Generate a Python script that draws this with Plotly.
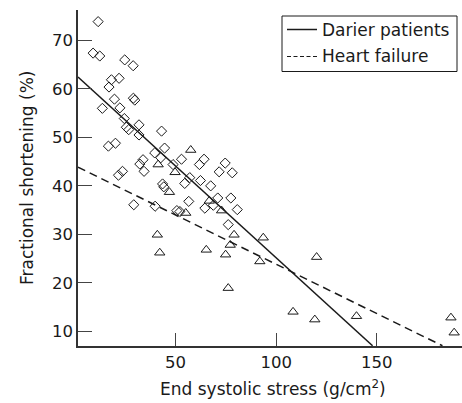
import plotly.graph_objects as go

# Darier patients (open diamonds)
darier_x = [11.6, 9.1, 12.4, 24.8, 29.0, 18.2, 22.0, 17.0, 29.1, 29.8, 19.7, 13.7, 22.4,
            24.6, 25.6, 26.8, 31.9, 31.9, 43.1, 16.7, 20.2, 39.7, 44.6, 42.7, 33.9, 32.3,
            34.4, 53.0, 48.8, 21.7, 23.7, 61.9, 64.2, 74.7, 71.7, 78.2, 57.1, 54.6, 62.4,
            67.5, 43.6, 44.2, 71.0, 77.5, 56.6, 64.6, 68.8, 80.7, 29.3, 39.9, 50.7, 52.2, 76.2]
darier_y = [73.9, 67.4, 66.8, 66.0, 64.8, 61.9, 62.2, 60.4, 58.1, 57.7, 57.9, 56.0, 56.1,
            53.9, 52.1, 51.6, 52.6, 50.5, 51.3, 48.2, 48.8, 46.8, 47.8, 45.8, 45.4, 44.5,
            43.0, 45.5, 44.4, 42.2, 43.0, 44.4, 45.5, 44.7, 42.9, 42.7, 41.7, 40.5, 41.1,
            40.0, 40.4, 39.8, 37.5, 37.5, 36.8, 35.4, 36.0, 35.1, 36.1, 35.8, 34.9, 34.7, 32.0]

# Heart failure (open triangles)
hf_x = [57.6, 41.4, 49.8, 47.0, 55.1, 66.8, 72.9, 41.0, 42.2, 65.3, 79.1, 77.2, 74.9,
        76.2, 93.6, 91.9, 120.1, 108.4, 119.2, 139.9, 186.8, 188.4]
hf_y = [47.4, 44.4, 42.8, 38.7, 34.4, 36.9, 34.9, 29.9, 26.2, 26.8, 29.9, 27.8, 25.8,
        18.9, 29.3, 24.4, 25.3, 14.0, 12.4, 13.1, 12.8, 9.7]

# Regression lines (end points)
darier_fit_x = [1.6, 147.9]
darier_fit_y = [62.45, 7.0]
hf_fit_x = [1.6, 182.6]
hf_fit_y = [43.86, 7.0]

x_ticks = [50, 100, 150]
y_ticks = [10, 20, 30, 40, 50, 60, 70]

FONT = "DejaVu Sans"
INK = "#1a1a1a"

# pixel helpers for paper coordinates (plot area: x 78..462, y 10..346)
def px(x):
    return (x - 78) / 384

def py(y):
    return (346 - y) / 336

fig = go.Figure()
fig.add_trace(go.Scatter(x=darier_fit_x, y=darier_fit_y, mode="lines",
                         line=dict(color=INK, width=1.5), showlegend=False))
fig.add_trace(go.Scatter(x=hf_fit_x, y=hf_fit_y, mode="lines",
                         line=dict(color=INK, width=1.5, dash="8px,5px"), showlegend=False))
fig.add_trace(go.Scatter(x=darier_x, y=darier_y, mode="markers",
                         marker=dict(symbol="diamond-open", size=7.8, color=INK,
                                     line=dict(width=1, color=INK)), showlegend=False))
fig.add_trace(go.Scatter(x=hf_x, y=hf_y, mode="markers",
                         marker=dict(symbol="triangle-up-open", size=9, color=INK,
                                     line=dict(width=1, color=INK)), showlegend=False))

fig.update_layout(
    width=462, height=403,
    margin=dict(l=78, r=0, t=10, b=57),
    paper_bgcolor="white", plot_bgcolor="white",
    font=dict(family=FONT, color=INK, size=17),
    showlegend=False,
    xaxis=dict(range=[1.6, 192.3], tickvals=x_ticks, ticks="inside", ticklen=13,
               tickwidth=1.2, tickcolor="#444", showline=True, linecolor="#333",
               linewidth=1.5, showgrid=False, zeroline=False,
               tickfont=dict(family=FONT, size=16.5, color=INK)),
    yaxis=dict(range=[6.95, 76.3], tickvals=y_ticks, ticks="inside", ticklen=14,
               tickwidth=1.2, tickcolor="#444", showline=True, linecolor="#333",
               linewidth=1.5, showgrid=False, zeroline=False,
               tickfont=dict(family=FONT, size=16.5, color=INK)),
    shapes=[
        dict(type="rect", xref="paper", yref="paper",
             x0=px(282), x1=px(457), y0=py(71.5), y1=py(16),
             line=dict(color=INK, width=1), fillcolor="white", layer="above"),
        dict(type="line", xref="paper", yref="paper",
             x0=px(287), x1=px(317), y0=py(29.5), y1=py(29.5),
             line=dict(color=INK, width=1.5)),
        dict(type="line", xref="paper", yref="paper",
             x0=px(287), x1=px(317), y0=py(56.5), y1=py(56.5),
             line=dict(color=INK, width=1.2, dash="4px,2.5px")),
    ],
    annotations=[
        dict(text="Darier patients", xref="paper", yref="paper",
             x=px(320), y=py(30), xanchor="left", yanchor="middle",
             showarrow=False, font=dict(family=FONT, size=17, color=INK)),
        dict(text="Heart failure", xref="paper", yref="paper",
             x=px(320), y=py(56.5), xanchor="left", yanchor="middle",
             showarrow=False, font=dict(family=FONT, size=17, color=INK)),
        dict(text="End systolic stress (g/cm<sup>2</sup>)", xref="paper", yref="paper",
             x=px(272.5), y=py(388), xanchor="center", yanchor="middle",
             showarrow=False, font=dict(family=FONT, size=17, color=INK)),
        dict(text="Fractional shortening (%)", xref="paper", yref="paper",
             x=px(27), y=py(178), xanchor="center", yanchor="middle",
             textangle=-90, showarrow=False, font=dict(family=FONT, size=17, color=INK)),
    ],
)

fig.write_html("out.html")
